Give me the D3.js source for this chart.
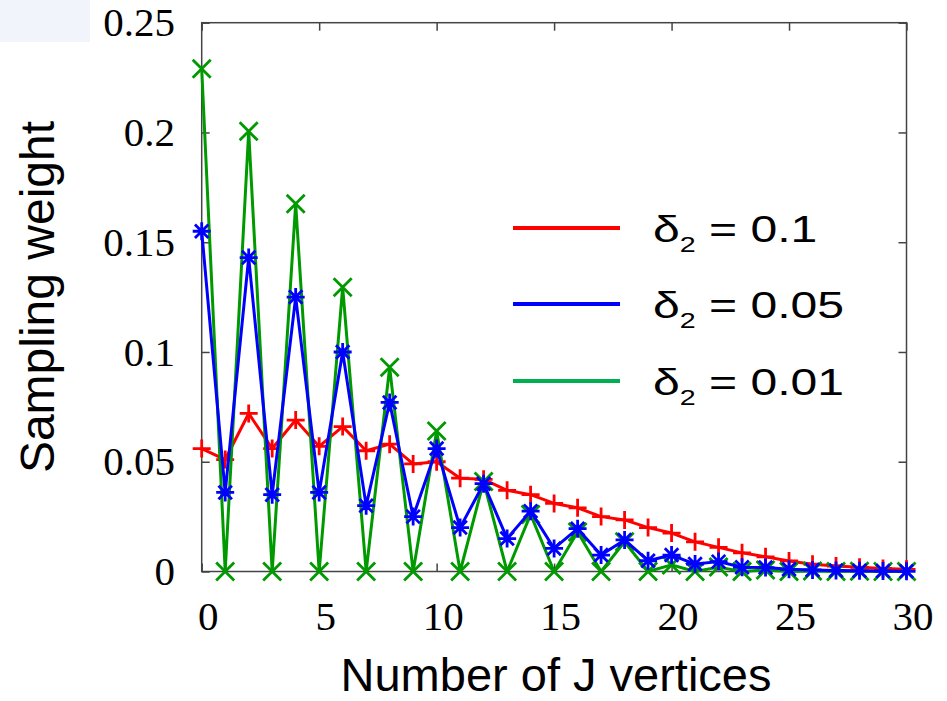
<!DOCTYPE html>
<html>
<head>
<meta charset="utf-8">
<script src="https://cdn.jsdelivr.net/npm/d3@7"></script>
<style>
    html, body { margin: 0; padding: 0; background: #fff; }
    svg { display: block; }
</style>
</head>
<body>
<div id="chart"></div>
<script>
'use strict';

// number of J vertices, 0..30
const vertices = d3.range(0, 31);

// sampling weights
const weightsDelta01 = [0.056, 0.051, 0.072, 0.056, 0.069, 0.057, 0.066, 0.055, 0.058, 0.049,
    0.050, 0.0425, 0.042, 0.037, 0.035, 0.031, 0.029, 0.025, 0.0235, 0.020,
    0.0175, 0.0135, 0.011, 0.0085, 0.0067, 0.0048, 0.0033, 0.0025, 0.0019, 0.0014, 0.001];
const weightsDelta005 = [0.155, 0.036, 0.143, 0.035, 0.125, 0.036, 0.100, 0.030, 0.077, 0.025,
    0.056, 0.020, 0.040, 0.015, 0.0275, 0.0105, 0.0195, 0.0075, 0.0144, 0.0049,
    0.0075, 0.0034, 0.0045, 0.0019, 0.0018, 0.001, 0.0007, 0.0005, 0.0003, 0.0002, 0.0001];
const weightsDelta001 = [0.229, 0, 0.2005, 0, 0.1675, 0, 0.1295, 0, 0.093, 0,
    0.064, 0, 0.041, 0, 0.026, 0, 0.018, 0, 0.0135, 0,
    0.003, 0, 0.002, 0, 0.0007, 0, 0.0002, 0, 0.0001, 0, 0];

const seriesLabels = ['0.1', '0.05', '0.01'];
const xTicks = [0, 5, 10, 15, 20, 25, 30];
const yTicks = [0, 0.05, 0.1, 0.15, 0.2, 0.25];

const width = 947, height = 701;
const plot = { left: 201.7, right: 906.5, top: 22.7, bottom: 571.5 };

const svg = d3.select('#chart').append('svg')
    .attr('width', width)
    .attr('height', height);

// faint tint in the top-left corner of the original capture
svg.append('rect')
    .attr('x', 0).attr('y', 0)
    .attr('width', 90).attr('height', 42)
    .attr('fill', '#f1f4fa');

const x = d3.scaleLinear().domain([0, 30]).range([plot.left, plot.right]);
const y = d3.scaleLinear().domain([0, 0.25]).range([plot.bottom, plot.top]);

const tickFont = '"Liberation Serif", "Times New Roman", serif';
const labelFont = '"Liberation Sans", Arial, sans-serif';

function styleAxis(g) {
    g.select('.domain').remove();
    g.selectAll('.tick line').attr('stroke', '#444').attr('stroke-width', 1.5);
    g.selectAll('.tick text')
        .attr('fill', '#000')
        .style('font-family', tickFont)
        .style('font-size', '41px');
}

// bottom axis with labels
svg.append('g')
    .attr('transform', `translate(0, ${plot.bottom})`)
    .call(d3.axisBottom(x).tickValues(xTicks).tickSizeInner(-8).tickSizeOuter(0).tickPadding(29.5))
    .call(styleAxis)
    .selectAll('.tick text').attr('dx', 6);

// left axis with labels
svg.append('g')
    .attr('transform', `translate(${plot.left}, 0)`)
    .call(d3.axisLeft(y).tickValues(yTicks).tickFormat(d => String(d)).tickSizeInner(-8).tickSizeOuter(0).tickPadding(26.7))
    .call(styleAxis);

// mirrored ticks on top and right
svg.append('g')
    .attr('transform', `translate(0, ${plot.top})`)
    .call(d3.axisTop(x).tickValues(xTicks).tickFormat('').tickSizeInner(-8).tickSizeOuter(0))
    .call(styleAxis);

svg.append('g')
    .attr('transform', `translate(${plot.right}, 0)`)
    .call(d3.axisRight(y).tickValues(yTicks).tickFormat('').tickSizeInner(-8).tickSizeOuter(0))
    .call(styleAxis);

// frame
svg.append('rect')
    .attr('x', plot.left).attr('y', plot.top)
    .attr('width', plot.right - plot.left)
    .attr('height', plot.bottom - plot.top)
    .attr('fill', 'none')
    .attr('stroke', '#444')
    .attr('stroke-width', 1.5);

// series
const r = 9;
const markerPaths = {
    plus: `M${-r},0H${r}M0,${-r}V${r}`,
    cross: `M${-r},${-r}L${r},${r}M${-r},${r}L${r},${-r}`,
    star: `M${-r},0H${r}M0,${-r}V${r}M${-r * 0.75},${-r * 0.75}L${r * 0.75},${r * 0.75}M${-r * 0.75},${r * 0.75}L${r * 0.75},${-r * 0.75}`
};

const series = [
    { values: weightsDelta01, colour: '#ff0000', marker: 'plus' },
    { values: weightsDelta001, colour: '#009a00', marker: 'cross' },
    { values: weightsDelta005, colour: '#0000ff', marker: 'star' }
];

const line = d3.line()
    .x((d, i) => x(vertices[i]))
    .y(d => y(d));

series.forEach(s => {
    const g = svg.append('g');
    g.append('path')
        .datum(s.values)
        .attr('d', line)
        .attr('fill', 'none')
        .attr('stroke', s.colour)
        .attr('stroke-width', 3)
        .attr('stroke-linejoin', 'round');

    g.selectAll('path.marker')
        .data(s.values)
        .join('path')
        .attr('class', 'marker')
        .attr('transform', (d, i) => `translate(${x(vertices[i])}, ${y(d)})`)
        .attr('d', markerPaths[s.marker])
        .attr('stroke', s.colour)
        .attr('stroke-width', 2.8)
        .attr('fill', 'none');
});

// legend
const legendColours = ['#ff0000', '#0000ff', '#00b050'];
const legendRows = [228, 304, 381];

seriesLabels.forEach((label, i) => {
    const rowY = legendRows[i];
    svg.append('line')
        .attr('x1', 513).attr('x2', 620)
        .attr('y1', rowY).attr('y2', rowY)
        .attr('stroke', legendColours[i])
        .attr('stroke-width', 4);

    const t = svg.append('g')
        .attr('transform', `translate(653, ${rowY + 13.5}) scale(1.3, 1)`)
        .append('text')
        .attr('fill', '#000')
        .style('font-family', labelFont)
        .style('font-size', '37px');
    t.append('tspan').text('δ');
    t.append('tspan').attr('dy', 10).style('font-size', '22px').text('2');
    t.append('tspan').attr('dy', -10).text(' = ' + label);
});

// axis titles
svg.append('text')
    .attr('x', 556)
    .attr('y', 691)
    .attr('text-anchor', 'middle')
    .attr('fill', '#000')
    .style('font-family', labelFont)
    .style('font-size', '47px')
    .text('Number of J vertices');

svg.append('text')
    .attr('transform', 'translate(54, 297) rotate(-90)')
    .attr('text-anchor', 'middle')
    .attr('fill', '#000')
    .style('font-family', labelFont)
    .style('font-size', '48px')
    .text('Sampling weight');
</script>
</body>
</html>
